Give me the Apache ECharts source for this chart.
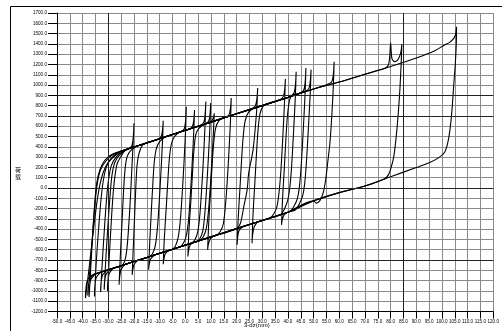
<!DOCTYPE html>
<html>
<head>
<meta charset="utf-8">
<script src="https://cdn.jsdelivr.net/npm/echarts@6/dist/echarts.min.js"></script>
<style>
html, body { margin: 0; padding: 0; background: #fff; }
#chart { width: 502px; height: 331px; }
</style>
</head>
<body>
<div id="chart"></div>
<script>
// axis ranges (mm / load)
const xMin = -50, xMax = 120, xStep = 5;
const yMin = -1200, yMax = 1700, yStep = 100;
// heavier grid lines seen in the picture
const darkYLines = [900, 700, 0, -700];
const darkXLines = [-30, 85];

// skeleton lines: loading (upper) and unloading (lower) branches
const upperLine = [[-27,340],[-20,398],[-10,478],[0,560],[10,640],[20,722],[30,800],[40,880],
    [50,962],[60,1030],[70,1105],[80,1180],[90,1262],[97,1322]];
const lowerLine = [[-38,-860],[-30,-795],[-20,-715],[-10,-635],[0,-555],[10,-475],[20,-395],
    [30,-315],[40,-235],[50,-125],[60,-45],[70,20],[80,110],[90,198]];

// each cycle: trough + steep rise back to the upper line
const reloadBranches = [
    [[-28,-779],[-29.6,-830],[-30.2,-920],[-30.3,-1000],[-29.7,-700],[-28.9,-350],[-28.2,-80],[-27.4,120],[-26.5,240],[-25,310],[-23.5,365]],
    [[-18.5,-703],[-19.9,-740],[-20.5,-800],[-20.7,-844],[-20.3,-600],[-19.8,-300],[-19.3,0],[-18.8,220],[-18,340],[-16.5,420],[-14,448]],
    [[-12,-651],[-13.5,-690],[-14.1,-750],[-14.3,-795],[-13.9,-550],[-13.3,-250],[-12.7,20],[-12.1,250],[-11.3,380],[-10,450],[-7.5,500]],
    [[-23.5,-743],[-25,-790],[-25.6,-870],[-25.8,-941],[-25.3,-650],[-24.6,-300],[-24,0],[-23.4,200],[-22.6,310],[-21,370],[-18.5,410]],
    [[-29,-787],[-30.9,-840],[-31.5,-920],[-31.6,-989],[-31,-700],[-30.2,-380],[-29.4,-100],[-28.6,120],[-27.6,240],[-26,310],[-23.5,362],[-21,390]],
    [[-6.5,-607],[-7.8,-640],[-8.4,-700],[-8.6,-740],[-8.2,-500],[-7.5,-220],[-6.9,30],[-6.3,260],[-5.5,420],[-4.2,500],[-2,545]],
    [[-30.5,-800],[-32.3,-850],[-32.9,-940],[-33,-1010],[-32.3,-700],[-31.4,-350],[-30.6,-80],[-29.8,100],[-28.8,220],[-27,300],[-24.5,355],[-22,383]],
    [[3,-531],[1.8,-560],[1.2,-620],[1,-666],[1.4,-420],[2.1,-150],[2.7,100],[3.3,350],[4.1,520],[5.3,580],[7.5,620]],
    [[-33,-819],[-34.7,-870],[-35.3,-970],[-35.4,-1054],[-34.8,-760],[-33.8,-400],[-32.8,-100],[-31.9,80],[-30.8,200],[-29,285],[-26.5,340],[-24,365]],
    [[11,-467],[9.6,-500],[8.9,-560],[8.7,-601],[9.1,-350],[9.8,-50],[10.4,200],[11,420],[11.8,580],[13,650],[15.5,685]],
    [[22.5,-375],[21,-410],[20.4,-480],[20.2,-552],[20.6,-300],[21.3,0],[21.9,260],[22.5,480],[23.3,650],[24.6,735],[27,780]],
    [[-35,-835],[-36.8,-890],[-37.4,-990],[-37.5,-1060],[-36.9,-800],[-36.1,-450],[-35.3,-150],[-34.5,50],[-33.3,175],[-31.5,265],[-29,320],[-26,350]],
    [[28,-331],[26.8,-380],[26.2,-460],[26,-536],[26.4,-250],[27.1,50],[27.7,320],[28.3,550],[29.1,720],[30.5,800],[33,828]],
    [[39.5,-239],[38.3,-270],[37.7,-320],[37.5,-358],[37.9,-100],[38.6,200],[39.2,480],[39.8,700],[40.7,860],[42,905],[44.5,920]],
    [[-35.5,-835],[-37.3,-890],[-37.9,-980],[-38,-1045],[-37.2,-800],[-36.2,-480],[-35.2,-150],[-34.2,60],[-33,180],[-31,260],[-28.5,320],[-26,350]],
    [[-36.5,-847],[-38.2,-900],[-38.8,-1000],[-38.9,-1070],[-37.6,-800],[-36,-450],[-34.5,-150],[-33.3,30],[-32,150],[-30.3,240],[-28,300],[-25,357]]
];

// each cycle: peak + steep drop down to the lower line
const unloadBranches = [
    [[-22,385],[-20.9,405],[-20.3,490],[-20,629],[-20.3,450],[-20.8,200],[-21.4,-100],[-22,-350],[-22.6,-550],[-23.3,-680],[-24.5,-751]],
    [[-10.6,474],[-9.4,500],[-8.9,560],[-8.6,654],[-8.9,450],[-9.5,150],[-10.2,-150],[-10.9,-400],[-11.7,-560],[-12.8,-640],[-14,-667]],
    [[-1.6,547],[-0.4,575],[0.1,650],[0.4,790],[0.1,560],[-0.5,250],[-1.2,-50],[-1.9,-300],[-2.7,-470],[-3.8,-560],[-5.2,-597]],
    [[1.6,573],[2.8,600],[3.3,660],[3.6,758],[3.3,550],[2.7,250],[2,-50],[1.3,-300],[0.5,-450],[-0.6,-530],[-2,-571]],
    [[6,609],[7.2,640],[7.7,710],[8,839],[7.7,620],[7.1,300],[6.4,0],[5.7,-250],[4.9,-420],[3.8,-500],[2.4,-536]],
    [[7.9,624],[9.1,650],[9.6,710],[9.9,826],[9.6,600],[9,300],[8.3,0],[7.6,-250],[6.8,-420],[5.7,-490],[4.3,-521]],
    [[9.3,635],[10.5,660],[11,690],[11.3,726],[11,560],[10.4,280],[9.7,0],[9,-230],[8.2,-390],[7.1,-470],[5.7,-510]],
    [[15.9,689],[17.1,715],[17.6,780],[17.9,875],[17.6,650],[17,350],[16.3,50],[15.6,-180],[14.8,-350],[13.7,-420],[12.3,-457]],
    [[26,771],[27.3,800],[27.9,870],[28.2,972],[27.8,750],[26.4,370],[24.7,144],[24.1,-18],[22.8,-180],[21.5,-341],[20,-395]],
    [[37,860],[38.2,890],[38.7,950],[39,1059],[38.7,850],[38,500],[37.2,150],[36.5,-50],[35.7,-180],[34.5,-250],[33,-291]],
    [[41.2,894],[42.4,925],[42.9,1000],[43.2,1130],[42.9,900],[42.2,550],[41.4,200],[40.7,0],[39.9,-120],[38.7,-200],[37.2,-257]],
    [[45,925],[46.2,955],[46.7,1030],[47,1166],[46.7,930],[46,580],[45.2,230],[44.5,20],[43.7,-100],[42.5,-170],[41,-227]],
    [[47,941],[48.2,970],[48.7,1040],[49,1150],[48.7,930],[48,600],[47.2,250],[46.5,40],[45.7,-80],[44.5,-150],[43,-211]],
    [[56,1012],[57.2,1040],[57.7,1110],[58,1227],[57.7,1000],[57.2,750],[56.4,450],[55.5,250],[54.8,100],[53.8,-40],[52.5,-120],[51,-147]],
    [[78,1165],[79.2,1200],[79.7,1290],[80,1412],[80.5,1260],[81.5,1228],[82.8,1245],[83.8,1300],[84.2,1350],[84.4,1399],
     [84.1,1200],[83.6,950],[82.9,700],[82.1,480],[81.2,300],[80.3,208],[79.2,130],[77.5,88]],
    [[97,1330],[101,1390],[103,1415],[104.6,1454],[105.3,1490],[105.7,1567],[105.6,1400],[105.2,1200],[104.6,1000],
     [103.9,750],[103.1,560],[102.2,430],[101,345],[98.5,290],[95,245],[90,198]]
];

// join the branches of one cycle with the skeleton points in between
function buildLoop(i) {
    const r = reloadBranches[i], u = unloadBranches[i];
    const rEnd = r[r.length - 1][0], uStart = u[0][0];
    const uEnd = u[u.length - 1][0], rStart = r[0][0];
    const upper = upperLine.filter(p => p[0] > rEnd && p[0] < uStart);
    const lower = lowerLine.filter(p => p[0] < uEnd && p[0] > rStart).reverse();
    return r.concat(upper, u, lower, [r[0]]);
}

const chart = echarts.init(document.getElementById('chart'));

const series = reloadBranches.map((b, i) => ({
    type: 'line',
    data: buildLoop(i),
    smooth: 0.3,
    showSymbol: false,
    silent: true,
    lineStyle: { color: '#000', width: 1.1 }
}));

series.push({
    type: 'line',
    data: [],
    markLine: {
        silent: true,
        symbol: 'none',
        label: { show: false },
        lineStyle: { color: '#222', width: 1, type: 'solid' },
        data: darkYLines.map(v => ({ yAxis: v })).concat(darkXLines.map(v => ({ xAxis: v })))
    }
});

const option = {
    backgroundColor: '#fff',
    animation: false,
    grid: { left: 57, right: 2, top: 13, bottom: 19.5 },
    xAxis: {
        type: 'value',
        min: xMin,
        max: xMax,
        interval: xStep,
        axisLine: { onZero: false, lineStyle: { color: '#000' } },
        axisTick: { length: 7, lineStyle: { color: '#000' } },
        axisLabel: {
            margin: 8,
            fontSize: 4.6,
            color: '#000',
            fontFamily: 'Liberation Sans',
            formatter: v => v.toFixed(1)
        },
        splitLine: { lineStyle: { color: '#8a8a8a', width: 1 } }
    },
    yAxis: {
        type: 'value',
        min: yMin,
        max: yMax,
        interval: yStep,
        axisLine: { show: true, onZero: false, lineStyle: { color: '#000' } },
        axisTick: { show: true, length: 9, lineStyle: { color: '#000' } },
        axisLabel: {
            margin: 10,
            fontSize: 4.6,
            color: '#000',
            fontFamily: 'Liberation Sans',
            formatter: v => v.toFixed(1)
        },
        splitLine: { lineStyle: { color: '#8a8a8a', width: 1 } }
    },
    graphic: [
        {
            type: 'rect',
            shape: { x: 10.5, y: 6.5, width: 600, height: 400 },
            style: { fill: 'none', stroke: '#000', lineWidth: 1 },
            silent: true
        },
        {
            type: 'text',
            left: 244,
            top: 322,
            style: { text: '3-dz(mm)', font: '6px "Liberation Sans"', fill: '#000' }
        },
        {
            type: 'text',
            left: 15,
            top: 166,
            style: { text: '荷\n载', font: '6px "Noto Sans CJK SC"', lineHeight: 7, fill: '#000' }
        }
    ],
    series: series
};

chart.setOption(option);
</script>
</body>
</html>
